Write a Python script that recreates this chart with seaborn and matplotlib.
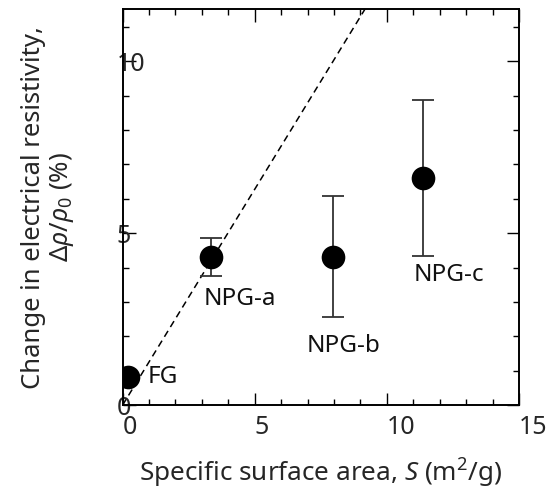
import matplotlib
matplotlib.use("Agg")
import matplotlib.pyplot as plt
import seaborn as sns
import numpy as np
import pandas as pd

# ---- data ----
samples = ["FG", "NPG-a", "NPG-b", "NPG-c"]
surface_area = [0.2, 3.35, 7.95, 11.35]
delta_rho = [0.82, 4.3, 4.32, 6.6]
delta_rho_err = [0.1, 0.55, 1.77, 2.27]
label_x = [0.93, 3.05, 6.95, 11.0]
label_y = [0.81, 3.10, 1.72, 3.78]
fit_x = [0.0, 10.0]
fit_y = [0.0, 12.55]
x_ticks = [0, 5, 10, 15]
y_ticks = [0, 5, 10]

sns.set_theme(style="ticks")
plt.rcParams['font.family'] = ['Noto Sans', 'DejaVu Sans']
plt.rcParams['mathtext.fontset'] = 'custom'
plt.rcParams['mathtext.rm'] = 'Noto Sans'
plt.rcParams['mathtext.it'] = 'Noto Sans:italic'
plt.rcParams['mathtext.bf'] = 'Noto Sans:bold'

df = pd.DataFrame({"sample": samples, "S": surface_area, "d": delta_rho, "err": delta_rho_err})
fit = pd.DataFrame({"x": fit_x, "y": fit_y})

fig = plt.figure(figsize=(5.52, 4.99), dpi=100)
ax = fig.add_axes([0.222, 0.188, 0.7183, 0.793])

# dashed linear guide
sns.lineplot(data=fit, x="x", y="y", ax=ax, color="black", lw=1.1,
             linestyle=(0, (4.5, 3)), zorder=1)

# error bars
ax.errorbar(df["S"], df["d"], yerr=df["err"], fmt="none", ecolor="#333333",
            elinewidth=1.3, capsize=8, capthick=1.3, zorder=2)

# markers
sns.scatterplot(data=df, x="S", y="d", ax=ax, color="black", s=290,
                edgecolor="black", linewidth=0, zorder=3)

for name, lx, ly in zip(samples, label_x, label_y):
    ax.text(lx, ly, name, ha="left", va="center", fontsize=17.5, color="#111111")

ax.set_xlim(0, 15)
ax.set_ylim(0, 11.5)
ax.set_xticks(x_ticks)
ax.set_yticks(y_ticks)
ax.set_xticks(np.arange(0, 16, 1), minor=True)
ax.set_yticks(np.arange(0, 12, 1), minor=True)
ax.tick_params(which="both", direction="in", top=True, right=True, width=1.0, color="black")
ax.tick_params(which="major", length=9)
ax.tick_params(which="minor", length=4.4)
ax.tick_params(axis="x", which="major", labelsize=18, pad=7)
ax.tick_params(axis="y", which="major", labelsize=18, pad=4.3)
for lbl in ax.get_xticklabels():
    lbl.set_ha("left")
for lbl in ax.get_yticklabels():
    lbl.set_ha("left")
for sp in ax.spines.values():
    sp.set_linewidth(1.4)
    sp.set_color("black")

ax.set_xlabel("Specific surface area, $S$ (m$^2$/g)", fontsize=18.8, labelpad=12)
ax.set_ylabel("Change in electrical resistivity,\n$\\Delta\\rho/\\rho_0$ (%)",
              fontsize=18.5, linespacing=1.1)
ax.yaxis.set_label_coords(-0.118, 0.5)

fig.savefig("out.png", dpi=100)
